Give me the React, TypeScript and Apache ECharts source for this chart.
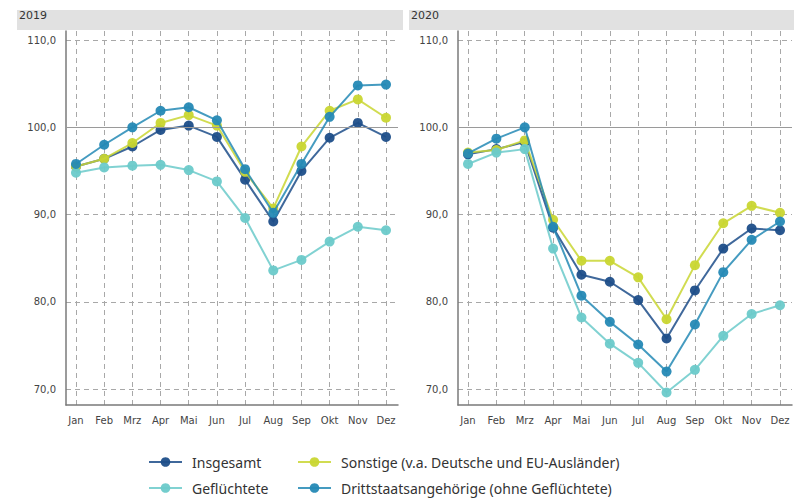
import React, { useEffect, useRef } from "react";
import * as echarts from "echarts";

const months = ["Jan", "Feb", "Mrz", "Apr", "Mai", "Jun", "Jul", "Aug", "Sep", "Okt", "Nov", "Dez"];
const panelTitles = ["2019", "2020"];
const seriesNames = [
  "Insgesamt",
  "Sonstige (v.a. Deutsche und EU-Ausländer)",
  "Geflüchtete",
  "Drittstaatsangehörige (ohne Geflüchtete)",
];
const seriesColors = ["#1d4e89", "#c9d632", "#6bcaca", "#2589b5"];

const insgesamt2019 = [95.5, 96.4, 97.8, 99.7, 100.2, 98.9, 94.0, 89.2, 95.0, 98.8, 100.5, 98.9];
const sonstige2019 = [95.5, 96.4, 98.2, 100.5, 101.4, 100.2, 94.9, 90.7, 97.8, 101.9, 103.2, 101.1];
const gefluechtete2019 = [94.8, 95.4, 95.6, 95.7, 95.1, 93.8, 89.6, 83.6, 84.8, 86.9, 88.6, 88.2];
const drittstaat2019 = [95.8, 98.0, 100.0, 101.9, 102.3, 100.8, 95.2, 90.2, 95.8, 101.2, 104.8, 104.9];

const insgesamt2020 = [96.9, 97.5, 98.3, 88.5, 83.1, 82.3, 80.2, 75.8, 81.3, 86.1, 88.4, 88.2];
const sonstige2020 = [97.1, 97.4, 98.5, 89.4, 84.7, 84.7, 82.8, 78.0, 84.2, 89.0, 91.0, 90.2];
const gefluechtete2020 = [95.8, 97.1, 97.5, 86.1, 78.2, 75.2, 73.0, 69.6, 72.2, 76.1, 78.6, 79.6];
const drittstaat2020 = [97.0, 98.7, 100.0, 88.6, 80.7, 77.7, 75.1, 72.0, 77.4, 83.4, 87.1, 89.2];

const data2019 = [insgesamt2019, sonstige2019, gefluechtete2019, drittstaat2019];
const data2020 = [insgesamt2020, sonstige2020, gefluechtete2020, drittstaat2020];

const Y_MIN = 68.17;
const Y_MAX = 111.04;
const REF_LINE = 100;

const AXIS_FONT = "DejaVu Sans";
const LEGEND_FONT = "Noto Sans";

export default function App() {
  const ref = useRef<HTMLDivElement>(null);

  useEffect(() => {
    if (!ref.current) return;
    const chart = echarts.init(ref.current, null, { renderer: "svg" });

    const top = 31;
    const height = 374;
    const panels = [
      { frameLeft: 66, frameWidth: 332, dataLeft: 76, dataWidth: 310, data: data2019 },
      { frameLeft: 458, frameWidth: 334, dataLeft: 468, dataWidth: 312, data: data2020 },
    ];

    const grid: any[] = [];
    const xAxis: any[] = [];
    const yAxis: any[] = [];
    const series: any[] = [];

    panels.forEach((p) => {
      const frameIdx = grid.length;
      grid.push({ left: p.frameLeft, top, width: p.frameWidth, height });
      const dataIdx = grid.length;
      grid.push({ left: p.dataLeft, top, width: p.dataWidth, height });

      xAxis.push({
        gridIndex: frameIdx,
        type: "value",
        min: 0,
        max: 1,
        axisLine: { show: true, onZero: false, lineStyle: { color: "#7a7a7a", width: 1.5 } },
        axisTick: { show: false },
        axisLabel: { show: false },
        splitLine: { show: false },
      });
      yAxis.push({
        gridIndex: frameIdx,
        type: "value",
        min: Y_MIN,
        max: Y_MAX,
        splitNumber: 4,
        axisLine: { show: true, lineStyle: { color: "#7a7a7a", width: 1.5 } },
        axisTick: { show: false },
        axisLabel: {
          margin: 10,
          color: "#444",
          fontFamily: AXIS_FONT,
          fontSize: 10,
          showMinLabel: false,
          showMaxLabel: false,
          formatter: (v: number) => v.toFixed(1).replace(".", ","),
        },
        splitLine: {
          show: true,
          showMinLine: false,
          showMaxLine: false,
          lineStyle: { color: "#a8a8a8", type: [5, 4], width: 1 },
        },
      });

      xAxis.push({
        gridIndex: dataIdx,
        type: "category",
        data: months,
        boundaryGap: false,
        axisLine: { show: false },
        axisTick: { show: false },
        axisLabel: { margin: 10, color: "#444", fontFamily: AXIS_FONT, fontSize: 10, interval: 0 },
        splitLine: { show: true, lineStyle: { color: "#a8a8a8", type: [5, 4], width: 1 } },
      });
      yAxis.push({
        gridIndex: dataIdx,
        type: "value",
        min: Y_MIN,
        max: Y_MAX,
        show: false,
        splitLine: { show: false },
      });

      series.push({
        type: "line",
        xAxisIndex: frameIdx,
        yAxisIndex: frameIdx,
        data: [],
        silent: true,
        markLine: {
          silent: true,
          symbol: "none",
          label: { show: false },
          lineStyle: { color: "#9a9a9a", type: "solid", width: 1.2 },
          data: [{ yAxis: REF_LINE }],
        },
      });

      p.data.forEach((vals, si) => {
        series.push({
          name: seriesNames[si],
          type: "line",
          xAxisIndex: dataIdx,
          yAxisIndex: dataIdx,
          data: vals,
          symbol: "circle",
          symbolSize: 10,
          showSymbol: true,
          color: seriesColors[si],
          lineStyle: { width: 2, opacity: 0.85 },
          itemStyle: { color: seriesColors[si], opacity: 0.95 },
          z: 3 + si,
        });
      });
    });

    const legendCommon = {
      orient: "vertical",
      top: 455,
      height: 80,
      padding: 0,
      itemWidth: 33,
      itemHeight: 12,
      itemGap: 12,
      textStyle: {
        fontFamily: LEGEND_FONT,
        fontSize: 14,
        color: "#333",
        padding: [0, 0, 0, 5],
      },
    };

    const option: any = {
      animation: false,
      backgroundColor: "#ffffff",
      grid,
      xAxis,
      yAxis,
      series,
      legend: [
        { ...legendCommon, left: 148, data: [seriesNames[0], seriesNames[2]] },
        { ...legendCommon, left: 297, data: [seriesNames[1], seriesNames[3]] },
      ],
      graphic: [
        { type: "rect", shape: { x: 17, y: 10, width: 386, height: 20 }, style: { fill: "#e1e1e1" }, silent: true },
        { type: "rect", shape: { x: 409, y: 10, width: 385, height: 20 }, style: { fill: "#e1e1e1" }, silent: true },
        {
          type: "text",
          x: 19,
          y: 15,
          style: { text: panelTitles[0], fill: "#333", font: `11px "${AXIS_FONT}"`, verticalAlign: "middle" },
        },
        {
          type: "text",
          x: 411,
          y: 15,
          style: { text: panelTitles[1], fill: "#333", font: `11px "${AXIS_FONT}"`, verticalAlign: "middle" },
        },
      ],
    };

    chart.setOption(option);
    return () => chart.dispose();
  }, []);

  return (
    <div
      ref={ref}
      style={{ position: "fixed", left: 0, top: 0, width: 794, height: 500, background: "#fff" }}
    />
  );
}
